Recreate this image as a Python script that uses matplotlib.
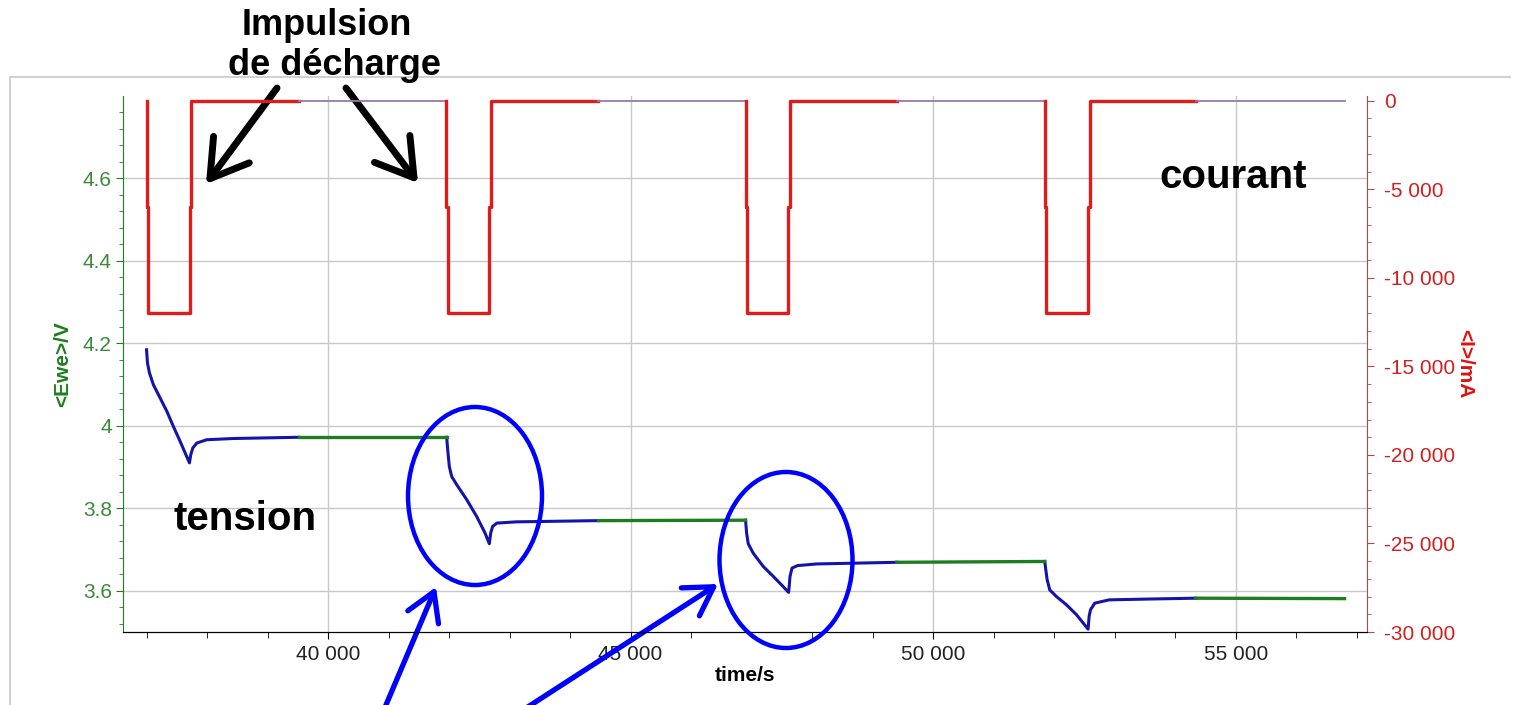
"""Impulsions de décharge : tension <Ewe> et courant <I> en fonction du temps."""

import matplotlib
matplotlib.use("Agg")
import matplotlib.pyplot as plt
from matplotlib.lines import Line2D
from matplotlib.patches import Ellipse
from matplotlib.ticker import FuncFormatter, MultipleLocator

plt.rcParams["font.family"] = ["Liberation Sans", "DejaVu Sans"]

W, H = 1518, 705

# --- tension (bleu = impulsion + relaxation, vert = repos) ---
v1_t = [37000, 37015, 37048, 37114, 37225, 37335, 37444, 37555, 37638, 37709,
        37731, 37764, 37830, 37995, 38430, 39520]
v1_v = [4.184, 4.152, 4.128, 4.099, 4.067, 4.035, 3.998, 3.962, 3.934, 3.910,
        3.930, 3.946, 3.958, 3.966, 3.969, 3.972]
v2_t = [41960, 41977, 42004, 42043, 42126, 42291, 42456, 42594, 42665,
        42688, 42720, 42790, 43110, 44470]
v2_v = [3.972, 3.942, 3.901, 3.877, 3.857, 3.821, 3.780, 3.740, 3.714,
        3.740, 3.756, 3.764, 3.767, 3.770]
v3_t = [46900, 46917, 46944, 47027, 47192, 47357, 47522, 47612,
        47635, 47668, 47760, 48073, 49400]
v3_v = [3.771, 3.740, 3.714, 3.691, 3.659, 3.635, 3.610, 3.596,
        3.635, 3.655, 3.661, 3.665, 3.669]
v4_t = [51845, 51862, 51884, 51928, 52038, 52203, 52369, 52561,
        52578, 52601, 52671, 52910, 53580, 54340]
v4_v = [3.671, 3.651, 3.627, 3.602, 3.586, 3.566, 3.542, 3.507,
        3.538, 3.554, 3.570, 3.578, 3.580, 3.582]

rest_t = [[39520, 41960], [44470, 46900], [49400, 51845], [54340, 56800]]
rest_v = [[3.972, 3.972], [3.770, 3.771], [3.669, 3.671], [3.582, 3.581]]

# --- courant (mA) ---
pulse_fall = [37000, 41955, 46900, 51845]
pulse_fall2 = [37025, 41980, 46925, 51870]
pulse_rise = [37710, 42665, 47605, 52565]
pulse_rise2 = [37735, 42690, 47630, 52590]
red_end = [39520, 44465, 49400, 54340]
purple_end = [41955, 46900, 51845, 56800]
i_pulse = -12000
i_mid = -6000

fmt_space = FuncFormatter(lambda v, _: f"{v:,.0f}".replace(",", " "))


def fx(x, y):
    """pixels de l'image -> fraction de figure."""
    return (x / W, 1 - y / H)


fig = plt.figure(figsize=(W / 100, H / 100), dpi=100)
fig.subplots_adjust(left=0.081, right=0.9005, top=0.8638, bottom=0.1035)
ax = fig.add_subplot(111)
ax2 = ax.twinx()

# cadre gris autour du graphique
fig.add_artist(Line2D([10 / W, 10 / W], [0, 1 - 77 / H], color="#c8c8c8", lw=1.2))
fig.add_artist(Line2D([10 / W, 1510 / W], [1 - 77 / H, 1 - 77 / H], color="#c8c8c8", lw=1.2))

green = "#1e7d1e"
blue = "#1414a8"
red = "#e01b1b"
purple = "#9a78a8"

for t, v in [(v1_t, v1_v), (v2_t, v2_v), (v3_t, v3_v), (v4_t, v4_v)]:
    ax.plot(t, v, color=blue, lw=2.2, zorder=3)
for t, v in zip(rest_t, rest_v):
    ax.plot(t, v, color=green, lw=2.4, zorder=3)

for k in range(len(pulse_fall)):
    tt = [pulse_fall[k], pulse_fall[k], pulse_fall2[k], pulse_fall2[k],
          pulse_rise[k], pulse_rise[k], pulse_rise2[k], pulse_rise2[k], red_end[k]]
    ii = [0, i_mid, i_mid, i_pulse, i_pulse, i_mid, i_mid, 0, 0]
    ax2.plot(tt, ii, color=red, lw=2.4, zorder=3)
    ax2.plot([red_end[k], purple_end[k]], [0, 0], color=purple, lw=1.3, zorder=3)

ax.set_xlim(36610, 57170)
ax.set_ylim(3.5, 4.799)
ax2.set_ylim(-30000, 265)

ax.xaxis.set_major_locator(MultipleLocator(5000))
ax.xaxis.set_minor_locator(MultipleLocator(1000))
ax.xaxis.set_major_formatter(fmt_space)
ax.yaxis.set_major_locator(MultipleLocator(0.2))
ax.yaxis.set_minor_locator(MultipleLocator(0.04))
ax.yaxis.set_major_formatter(FuncFormatter(lambda v, _: f"{v:g}"))
ax2.yaxis.set_major_locator(MultipleLocator(5000))
ax2.yaxis.set_minor_locator(MultipleLocator(1000))
ax2.yaxis.set_major_formatter(fmt_space)

ax.grid(True, which="major", color="#c8c8c8", lw=1.0)
ax.set_axisbelow(True)

for a in (ax, ax2):
    a.spines["top"].set_visible(False)
ax.spines["left"].set_color(green)
ax.spines["right"].set_visible(False)
ax2.spines["left"].set_visible(False)
ax2.spines["right"].set_color("#b04848")
ax.spines["bottom"].set_color("black")

ax.tick_params(axis="y", which="both", colors=green, labelcolor="#3a8a3a", labelsize=15)
ax.tick_params(axis="y", which="major", length=5, pad=3)
ax.tick_params(axis="y", which="minor", length=3)
ax.tick_params(axis="x", which="major", length=5, pad=4, labelsize=15, labelcolor="#222222")
ax.tick_params(axis="x", which="minor", length=4)
ax2.tick_params(axis="y", which="both", colors="#b04848", labelcolor="#d02020", labelsize=15)
ax2.tick_params(axis="y", which="major", length=5, pad=7)
ax2.tick_params(axis="y", which="minor", length=3)

ax.set_xlabel("time/s", fontsize=15, fontweight="bold", labelpad=2)
ax.set_ylabel("<Ewe>/V", fontsize=15, fontweight="bold", color=green, labelpad=8)
ax2.set_ylabel("<I>/mA", fontsize=15, fontweight="bold", color="#e01010", rotation=270, labelpad=14)

# textes
x, y = fx(327, 35)
fig.text(x, y, "Impulsion", ha="center", va="baseline", fontsize=26, fontweight="bold")
x, y = fx(334, 75)
fig.text(x, y, "de décharge", ha="center", va="baseline", fontsize=26, fontweight="bold")
x, y = fx(1233, 188)
fig.text(x, y, "courant", ha="center", va="baseline", fontsize=29, fontweight="bold")
x, y = fx(245, 530)
fig.text(x, y, "tension", ha="center", va="baseline", fontsize=29, fontweight="bold")

# flèches noires
black_arrow = dict(arrowstyle="->,head_length=1.3,head_width=0.8", lw=5, color="black",
                   mutation_scale=20, shrinkA=0, shrinkB=0)
ax.annotate("", xy=fx(206, 184), xytext=fx(277, 88), xycoords="figure fraction",
            textcoords="figure fraction", arrowprops=black_arrow)
ax.annotate("", xy=fx(418, 183), xytext=fx(346, 88), xycoords="figure fraction",
            textcoords="figure fraction", arrowprops=black_arrow)

# ellipses et flèches bleues
for cx, cy, ew, eh in [(475, 496, 134, 178), (786, 560, 133, 176)]:
    fig.add_artist(Ellipse(fx(cx, cy), ew / W, eh / H, transform=fig.transFigure,
                           fill=False, edgecolor="#0000ff", lw=3.2, zorder=10))
blue_arrow = dict(arrowstyle="->,head_length=1.0,head_width=0.6", lw=3.8, color="#0000ff",
                  mutation_scale=20, shrinkA=0, shrinkB=0)
ax.annotate("", xy=fx(436, 587), xytext=fx(383, 712), xycoords="figure fraction",
            textcoords="figure fraction", arrowprops=blue_arrow, annotation_clip=False)
ax.annotate("", xy=fx(718, 584), xytext=fx(520, 712), xycoords="figure fraction",
            textcoords="figure fraction", arrowprops=blue_arrow, annotation_clip=False)

fig.savefig("out.png", dpi=100)
